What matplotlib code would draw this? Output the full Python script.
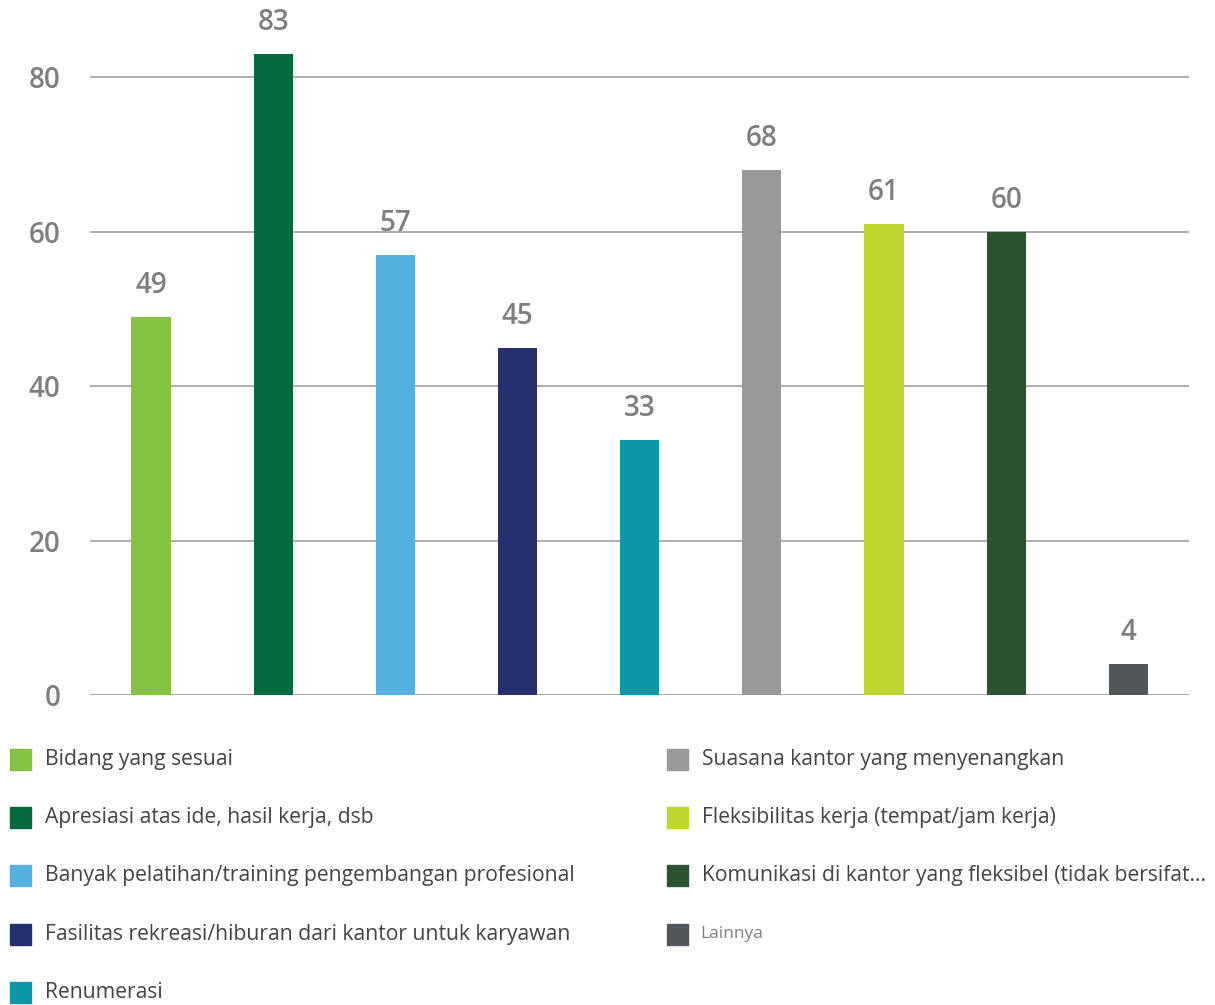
import matplotlib.pyplot as plt
from matplotlib.patches import Rectangle

# Data
categories = [
    'Bidang yang sesuai',
    'Apresiasi atas ide, hasil kerja, dsb',
    'Banyak pelatihan/training pengembangan profesional',
    'Fasilitas rekreasi/hiburan dari kantor untuk karyawan',
    'Renumerasi',
    'Suasana kantor yang menyenangkan',
    'Fleksibilitas kerja (tempat/jam kerja)',
    'Komunikasi di kantor yang fleksibel (tidak bersifat...',
    'Lainnya',
]
values = [49, 83, 57, 45, 33, 68, 61, 60, 4]
colors = ['#84c341', '#056b3f', '#57b1e0', '#27306e', '#0c98a7',
          '#98999b', '#c1d52f', '#2a5332', '#53565a']
yticks = [0, 20, 40, 60, 80]

plt.rcParams['font.family'] = ['Open Sans', 'DejaVu Sans']

fig = plt.figure(figsize=(12.15, 10.05), dpi=100)
ax = fig.add_axes([0.074, 0.3085, 0.905, 0.653])

x = list(range(len(values)))
ax.bar(x, values, width=0.32, color=colors, zorder=3)
for xi, v in zip(x, values):
    ax.text(xi, v + 2.2, str(v), ha='center', va='bottom', fontsize=20,
            fontweight='semibold', color='#7f7f7f', clip_on=False)

ax.set_xlim(-0.5, len(values) - 0.5)
ax.set_ylim(0, 85)
ax.set_yticks(yticks)
ax.set_xticks([])
ax.grid(axis='y', color='#a0a0a0', linewidth=1.2, zorder=0)
for s in ax.spines.values():
    s.set_visible(False)
ax.tick_params(axis='y', length=0, pad=21, labelsize=20, labelcolor='#7f7f7f')
for lab in ax.get_yticklabels():
    lab.set_fontweight('semibold')

# Manual legend, two columns
W, H = 1215, 1005
row_y = [759, 817, 875, 934, 992]
for i, (name, c) in enumerate(zip(categories, colors)):
    if i < 5:
        sx, ty = 10, row_y[i]
    else:
        sx, ty = 667, row_y[i - 5]
    fig.patches.append(Rectangle((sx / W, 1 - (ty + 11) / H), 21 / W, 21 / H,
                                 transform=fig.transFigure, color=c))
    if name == 'Lainnya':
        fig.text((sx + 33) / W, 1 - ty / H, name, fontsize=12.5, color='#808080',
                 va='center', ha='left')
    else:
        fig.text((sx + 35) / W, 1 - ty / H, name, fontsize=15.25, color='#444444',
                 va='center', ha='left')

fig.savefig('out.png', dpi=100)
